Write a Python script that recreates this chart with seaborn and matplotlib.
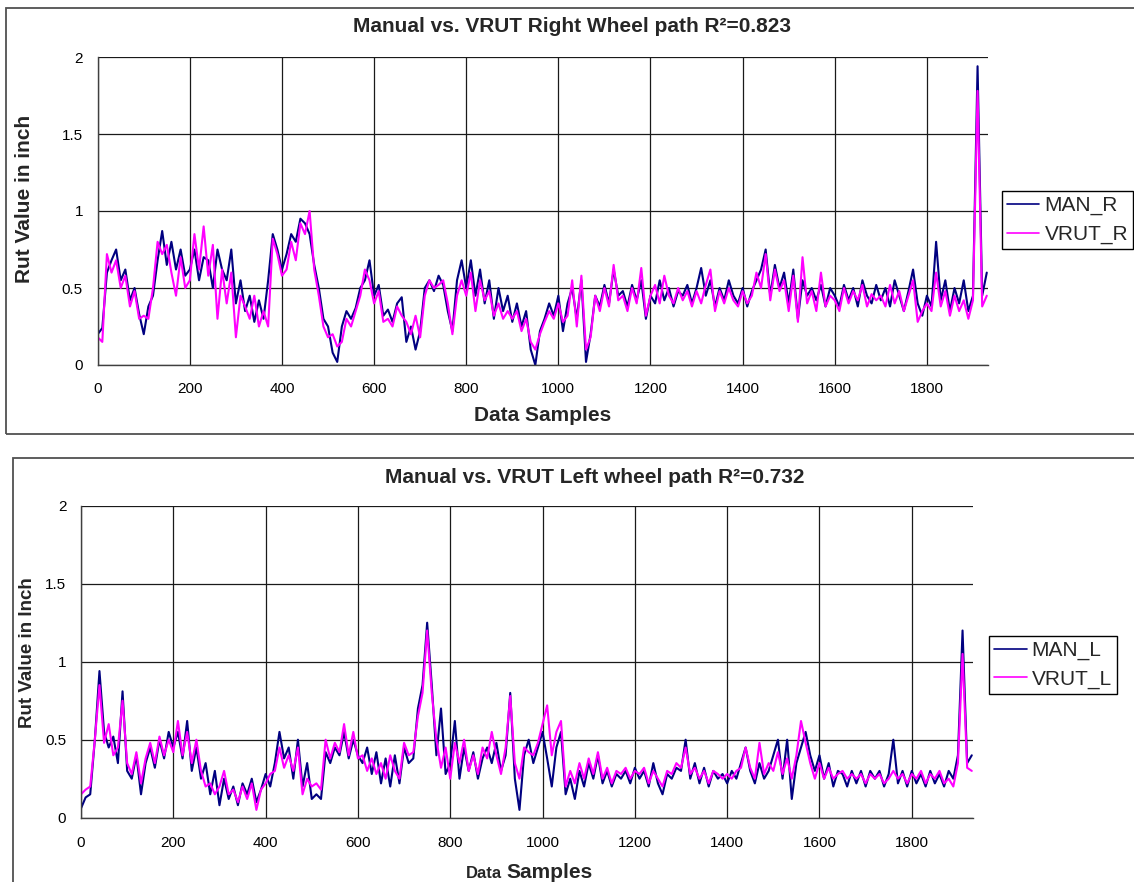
import numpy as np
import pandas as pd
import matplotlib
matplotlib.use('Agg')
import matplotlib.pyplot as plt
from matplotlib.patches import Rectangle
import seaborn as sns

# values, one every 10 data samples (0, 10, ..., 1930)
SAMPLE_STEP = 10

man_r = [
    0.20, 0.24, 0.60, 0.68, 0.75, 0.55, 0.62, 0.42, 0.50, 0.33,
    0.20, 0.38, 0.45, 0.68, 0.87, 0.65, 0.80, 0.62, 0.75, 0.58,
    0.62, 0.75, 0.55, 0.70, 0.68, 0.50, 0.75, 0.62, 0.55, 0.75,
    0.40, 0.55, 0.35, 0.45, 0.28, 0.42, 0.30, 0.55, 0.85, 0.75,
    0.62, 0.72, 0.85, 0.80, 0.95, 0.92, 0.85, 0.65, 0.50, 0.30,
    0.25, 0.08, 0.02, 0.25, 0.35, 0.30, 0.37, 0.50, 0.55, 0.68,
    0.45, 0.52, 0.32, 0.36, 0.28, 0.40, 0.44, 0.15, 0.25, 0.10,
    0.22, 0.50, 0.55, 0.48, 0.58, 0.52, 0.35, 0.22, 0.55, 0.68,
    0.50, 0.68, 0.45, 0.62, 0.40, 0.55, 0.30, 0.50, 0.35, 0.45,
    0.28, 0.40, 0.25, 0.35, 0.10, 0.00, 0.22, 0.30, 0.40, 0.32,
    0.45, 0.22, 0.40, 0.50, 0.30, 0.55, 0.02, 0.20, 0.45, 0.38,
    0.52, 0.40, 0.62, 0.45, 0.48, 0.38, 0.52, 0.42, 0.55, 0.30,
    0.45, 0.40, 0.55, 0.42, 0.50, 0.38, 0.48, 0.45, 0.52, 0.40,
    0.50, 0.63, 0.45, 0.55, 0.38, 0.50, 0.42, 0.55, 0.45, 0.40,
    0.50, 0.38, 0.48, 0.55, 0.62, 0.75, 0.45, 0.65, 0.50, 0.60,
    0.40, 0.62, 0.30, 0.55, 0.45, 0.50, 0.42, 0.52, 0.38, 0.50,
    0.45, 0.38, 0.52, 0.42, 0.50, 0.38, 0.55, 0.45, 0.40, 0.52,
    0.42, 0.50, 0.38, 0.55, 0.45, 0.35, 0.48, 0.62, 0.40, 0.32,
    0.45, 0.38, 0.80, 0.42, 0.55, 0.35, 0.50, 0.40, 0.55, 0.35,
    0.45, 1.94, 0.45, 0.60,
]

vrut_r = [
    0.18, 0.15, 0.72, 0.60, 0.68, 0.50, 0.58, 0.38, 0.48, 0.30,
    0.32, 0.30, 0.50, 0.80, 0.72, 0.78, 0.60, 0.45, 0.70, 0.50,
    0.55, 0.85, 0.62, 0.90, 0.58, 0.78, 0.30, 0.62, 0.40, 0.60,
    0.18, 0.45, 0.38, 0.30, 0.45, 0.25, 0.35, 0.25, 0.82, 0.72,
    0.58, 0.62, 0.80, 0.68, 0.92, 0.85, 1.00, 0.62, 0.45, 0.25,
    0.18, 0.20, 0.12, 0.15, 0.30, 0.25, 0.35, 0.45, 0.62, 0.55,
    0.40, 0.48, 0.28, 0.30, 0.25, 0.38, 0.32, 0.28, 0.20, 0.32,
    0.18, 0.45, 0.55, 0.50, 0.52, 0.55, 0.40, 0.20, 0.45, 0.55,
    0.45, 0.60, 0.35, 0.55, 0.42, 0.48, 0.32, 0.40, 0.30, 0.35,
    0.30, 0.35, 0.22, 0.30, 0.15, 0.10, 0.20, 0.28, 0.35, 0.30,
    0.40, 0.28, 0.32, 0.55, 0.25, 0.58, 0.10, 0.18, 0.45, 0.35,
    0.50, 0.38, 0.65, 0.42, 0.45, 0.35, 0.50, 0.40, 0.63, 0.32,
    0.45, 0.52, 0.40, 0.58, 0.45, 0.40, 0.50, 0.42, 0.48, 0.38,
    0.48, 0.40, 0.52, 0.62, 0.35, 0.48, 0.40, 0.50, 0.42, 0.38,
    0.48, 0.40, 0.45, 0.60, 0.50, 0.72, 0.42, 0.62, 0.48, 0.55,
    0.35, 0.58, 0.28, 0.70, 0.40, 0.48, 0.35, 0.60, 0.38, 0.45,
    0.42, 0.35, 0.50, 0.40, 0.48, 0.42, 0.52, 0.38, 0.46, 0.42,
    0.45, 0.38, 0.52, 0.40, 0.48, 0.35, 0.45, 0.55, 0.28, 0.35,
    0.40, 0.35, 0.60, 0.38, 0.48, 0.32, 0.45, 0.35, 0.42, 0.30,
    0.42, 1.78, 0.38, 0.45,
]

man_l = [
    0.06, 0.13, 0.15, 0.50, 0.94, 0.55, 0.45, 0.52, 0.35, 0.81,
    0.30, 0.25, 0.40, 0.15, 0.35, 0.45, 0.32, 0.50, 0.38, 0.55,
    0.45, 0.55, 0.38, 0.62, 0.30, 0.45, 0.25, 0.35, 0.15, 0.30,
    0.08, 0.25, 0.12, 0.20, 0.08, 0.22, 0.15, 0.25, 0.10, 0.18,
    0.28, 0.20, 0.35, 0.55, 0.38, 0.45, 0.25, 0.50, 0.20, 0.35,
    0.12, 0.15, 0.12, 0.42, 0.35, 0.45, 0.40, 0.55, 0.38, 0.50,
    0.40, 0.35, 0.45, 0.28, 0.42, 0.22, 0.38, 0.20, 0.40, 0.22,
    0.45, 0.35, 0.38, 0.70, 0.85, 1.25, 0.85, 0.40, 0.70, 0.28,
    0.35, 0.62, 0.25, 0.45, 0.30, 0.42, 0.25, 0.38, 0.45, 0.35,
    0.48, 0.30, 0.40, 0.80, 0.25, 0.05, 0.40, 0.50, 0.35, 0.45,
    0.55, 0.38, 0.20, 0.45, 0.55, 0.15, 0.25, 0.12, 0.30, 0.20,
    0.35, 0.25, 0.40, 0.22, 0.30, 0.20, 0.28, 0.25, 0.30, 0.22,
    0.32, 0.25, 0.30, 0.20, 0.35, 0.22, 0.15, 0.28, 0.25, 0.32,
    0.30, 0.50, 0.25, 0.35, 0.22, 0.32, 0.20, 0.30, 0.25, 0.28,
    0.22, 0.30, 0.25, 0.35, 0.45, 0.30, 0.22, 0.35, 0.25, 0.30,
    0.40, 0.50, 0.25, 0.50, 0.12, 0.35, 0.45, 0.55, 0.40, 0.30,
    0.40, 0.25, 0.35, 0.20, 0.30, 0.28, 0.20, 0.30, 0.22, 0.30,
    0.20, 0.30, 0.25, 0.30, 0.20, 0.28, 0.50, 0.22, 0.30, 0.20,
    0.30, 0.22, 0.28, 0.20, 0.30, 0.22, 0.28, 0.20, 0.30, 0.25,
    0.40, 1.20, 0.35, 0.40,
]

vrut_l = [
    0.15, 0.18, 0.20, 0.50, 0.85, 0.48, 0.60, 0.40, 0.45, 0.75,
    0.35, 0.28, 0.42, 0.22, 0.38, 0.48, 0.35, 0.52, 0.40, 0.50,
    0.42, 0.62, 0.40, 0.55, 0.35, 0.50, 0.30, 0.20, 0.22, 0.15,
    0.20, 0.30, 0.15, 0.18, 0.10, 0.20, 0.12, 0.22, 0.05, 0.18,
    0.22, 0.28, 0.30, 0.45, 0.32, 0.40, 0.30, 0.45, 0.15, 0.25,
    0.20, 0.22, 0.18, 0.50, 0.38, 0.48, 0.42, 0.60, 0.40, 0.55,
    0.38, 0.40, 0.30, 0.38, 0.28, 0.35, 0.25, 0.40, 0.30, 0.25,
    0.48, 0.40, 0.42, 0.65, 0.80, 1.20, 0.80, 0.50, 0.32, 0.45,
    0.25, 0.48, 0.35, 0.50, 0.30, 0.40, 0.28, 0.45, 0.38, 0.55,
    0.40, 0.28, 0.45, 0.78, 0.35, 0.25, 0.45, 0.42, 0.40, 0.48,
    0.60, 0.72, 0.40, 0.55, 0.62, 0.20, 0.30, 0.22, 0.35, 0.25,
    0.38, 0.28, 0.42, 0.25, 0.32, 0.22, 0.30, 0.28, 0.32, 0.25,
    0.30, 0.28, 0.32, 0.22, 0.30, 0.25, 0.20, 0.30, 0.28, 0.35,
    0.32, 0.45, 0.28, 0.32, 0.25, 0.30, 0.22, 0.30, 0.28, 0.25,
    0.28, 0.25, 0.30, 0.32, 0.45, 0.32, 0.25, 0.48, 0.28, 0.35,
    0.30, 0.42, 0.28, 0.38, 0.25, 0.40, 0.62, 0.48, 0.35, 0.25,
    0.35, 0.25, 0.32, 0.25, 0.28, 0.30, 0.25, 0.28, 0.25, 0.28,
    0.22, 0.28, 0.25, 0.28, 0.22, 0.25, 0.30, 0.25, 0.28, 0.22,
    0.28, 0.25, 0.30, 0.22, 0.28, 0.25, 0.30, 0.22, 0.25, 0.20,
    0.35, 1.05, 0.32, 0.30,
]

x_ticks = [0, 200, 400, 600, 800, 1000, 1200, 1400, 1600, 1800]
y_ticks = [0, 0.5, 1, 1.5, 2]
y_tick_labels = ['0', '0.5', '1', '1.5', '2']

samples = np.arange(len(man_r)) * SAMPLE_STEP
right_df = pd.DataFrame({'sample': samples, 'MAN_R': man_r, 'VRUT_R': vrut_r})
left_df = pd.DataFrame({'sample': samples, 'MAN_L': man_l, 'VRUT_L': vrut_l})

sns.set_style('white')
plt.rcParams['font.family'] = ['Liberation Sans', 'DejaVu Sans']

fig = plt.figure(figsize=(11.34, 8.82), dpi=100)
W, H = 1134, 882

# chart area frames (Excel-style)
fig.patches.append(Rectangle((6 / W, 1 - 434 / H), 1.2, (434 - 8) / H,
                             transform=fig.transFigure, fill=False,
                             edgecolor='#505050', lw=1.3))
fig.patches.append(Rectangle((13 / W, -0.05), 1.2, 0.05 + 1 - 457.7 / H,
                             transform=fig.transFigure, fill=False,
                             edgecolor='#505050', lw=1.3))

ax1 = fig.add_axes([97.7 / W, 1 - 365 / H, 890 / W, 308 / H])
ax2 = fig.add_axes([81 / W, 1 - 817.7 / H, 891.7 / W, 312 / H])

LINE_W = 1.5


def style_axes(ax):
    ax.set_xlim(0, 1932)
    ax.set_ylim(0, 2)
    ax.set_xticks(x_ticks)
    ax.set_xticklabels([str(t) for t in x_ticks])
    ax.set_yticks(y_ticks)
    ax.set_yticklabels(y_tick_labels)
    ax.grid(True, color='#1a1a1a', lw=0.9)
    ax.set_axisbelow(True)
    for s in ['top', 'right']:
        ax.spines[s].set_visible(False)
    for s in ['left', 'bottom']:
        ax.spines[s].set_color('#404040')
        ax.spines[s].set_linewidth(1.0)
    ax.tick_params(axis='both', direction='out', length=3.6, width=0.8,
                   color='black', labelsize=11, labelcolor='black')
    ax.tick_params(axis='x', pad=8.5)
    ax.tick_params(axis='y', pad=7)
    ax.set_xlabel('')
    ax.set_ylabel('')


def add_legend(ax, anchor):
    leg = ax.legend(loc='upper left', bbox_to_anchor=anchor,
                    bbox_transform=fig.transFigure, fontsize=15, frameon=True,
                    fancybox=False, edgecolor='black', framealpha=1,
                    borderpad=0.25, handlelength=1.55, handletextpad=0.25,
                    labelspacing=0.45, borderaxespad=0)
    leg.get_frame().set_linewidth(1.0)
    for line in leg.get_lines():
        line.set_linewidth(1.2)


# top: right wheel path
sns.lineplot(data=right_df, x='sample', y='MAN_R', ax=ax1, color='#000080',
             lw=LINE_W, label='MAN_R')
sns.lineplot(data=right_df, x='sample', y='VRUT_R', ax=ax1, color='#FF00FF',
             lw=LINE_W, label='VRUT_R')
style_axes(ax1)
add_legend(ax1, (1001.7 / W, 1 - 191 / H))
fig.text(572 / W, 1 - 27 / H, 'Manual vs. VRUT Right Wheel path R²=0.823',
         ha='center', va='center', fontsize=15, fontweight='bold')
fig.text(543 / W, 1 - 415 / H, 'Data Samples', ha='center', va='center',
         fontsize=15, fontweight='bold')
fig.text(25 / W, 1 - 199 / H, 'Rut Value in inch', ha='center', va='center',
         rotation=90, fontsize=15, fontweight='bold')

# bottom: left wheel path
sns.lineplot(data=left_df, x='sample', y='MAN_L', ax=ax2, color='#000080',
             lw=LINE_W, label='MAN_L')
sns.lineplot(data=left_df, x='sample', y='VRUT_L', ax=ax2, color='#FF00FF',
             lw=LINE_W, label='VRUT_L')
style_axes(ax2)
ax2.tick_params(axis='x', pad=9.5)
add_legend(ax2, (989 / W, 1 - 635.7 / H))
fig.text(595 / W, 1 - 477.7 / H, 'Manual vs. VRUT Left wheel path R²=0.732',
         ha='center', va='center', fontsize=15, fontweight='bold')
fig.text(502 / W, 3.5 / H, 'Data', ha='right', va='baseline',
         fontsize=12, fontweight='bold')
fig.text(506 / W, 3.5 / H, 'Samples', ha='left', va='baseline',
         fontsize=15, fontweight='bold')
fig.text(28 / W, 1 - 653 / H, 'Rut Value in Inch', ha='center', va='center',
         rotation=90, fontsize=13.5, fontweight='bold')

fig.savefig('out.png', dpi=100)
